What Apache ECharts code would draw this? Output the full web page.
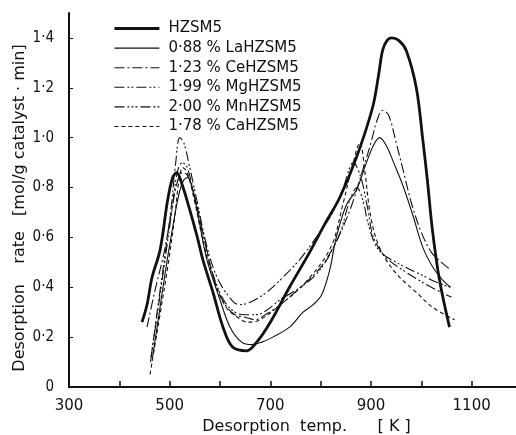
<!DOCTYPE html>
<html>
<head>
<meta charset="utf-8">
<script src="https://cdn.jsdelivr.net/npm/echarts@6/dist/echarts.min.js"></script>
<style>
  html, body { margin: 0; padding: 0; background: #fff; }
  #chart { width: 516px; height: 435px; }
</style>
</head>
<body>
<div id="chart"></div>
<script>
// desorption temp [K], rate pairs
const hzsm5 = [[445,0.26],[455,0.33],[465,0.44],[481,0.55],[496,0.75],[506,0.84],[514,0.86],[525,0.81],[540,0.71],[555,0.60],[566,0.51],[586,0.38],[606,0.24],[625,0.16],[653,0.145],[673,0.18],[700,0.26],[738,0.40],[778,0.54],[810,0.66],[838,0.76],[871,0.92],[903,1.12],[915,1.25],[923,1.35],[932,1.39],[941,1.40],[955,1.39],[970,1.35],[990,1.20],[1003,0.99],[1012,0.83],[1022,0.63],[1036,0.43],[1056,0.24]];
const laHzsm5 = [[466,0.12],[478,0.28],[492,0.47],[506,0.64],[518,0.77],[528,0.83],[536,0.84],[546,0.79],[560,0.65],[574,0.51],[600,0.35],[620,0.24],[643,0.18],[663,0.17],[683,0.18],[705,0.20],[738,0.24],[765,0.30],[785,0.33],[802,0.37],[818,0.47],[831,0.60],[851,0.73],[871,0.79],[891,0.90],[905,0.97],[917,1.00],[930,0.97],[945,0.90],[963,0.81],[983,0.69],[1003,0.56],[1023,0.48],[1042,0.43],[1058,0.40]];
const ceHzsm5 = [[455,0.24],[470,0.38],[490,0.55],[505,0.72],[515,0.82],[525,0.86],[535,0.85],[550,0.76],[570,0.58],[590,0.42],[610,0.33],[630,0.29],[650,0.28],[670,0.27],[690,0.29],[720,0.33],[760,0.40],[800,0.48],[830,0.58],[860,0.72],[885,0.88],[900,0.98],[912,1.07],[923,1.11],[935,1.09],[950,0.98],[965,0.86],[980,0.74],[1000,0.62],[1020,0.54],[1040,0.50],[1058,0.47]];
const mgHzsm5 = [[462,0.10],[475,0.30],[490,0.52],[503,0.72],[512,0.90],[520,1.00],[528,0.98],[540,0.88],[555,0.74],[572,0.58],[592,0.45],[615,0.37],[638,0.33],[660,0.34],[693,0.38],[725,0.44],[758,0.51],[798,0.62],[824,0.70],[845,0.80],[865,0.90],[880,0.84],[893,0.72],[905,0.60],[930,0.52],[970,0.46],[1020,0.40],[1060,0.36]];
const mnHzsm5 = [[463,0.12],[476,0.30],[490,0.50],[504,0.70],[515,0.86],[525,0.90],[535,0.88],[550,0.76],[568,0.60],[588,0.44],[610,0.34],[630,0.30],[648,0.29],[670,0.29],[720,0.35],[790,0.45],[835,0.60],[858,0.75],[872,0.80],[885,0.74],[895,0.65],[915,0.55],[950,0.50],[1000,0.45],[1030,0.42],[1058,0.40]];
const caHzsm5 = [[461,0.05],[470,0.16],[480,0.28],[496,0.48],[510,0.68],[518,0.82],[526,0.88],[535,0.86],[550,0.74],[568,0.57],[590,0.42],[612,0.32],[635,0.28],[655,0.26],[680,0.27],[720,0.33],[770,0.42],[820,0.56],[845,0.74],[862,0.88],[878,0.98],[888,0.86],[898,0.70],[911,0.59],[930,0.51],[957,0.44],[990,0.38],[1022,0.32],[1066,0.27]];

const legendNames = ['HZSM5', '0·88 % LaHZSM5', '1·23 % CeHZSM5', '1·99 % MgHZSM5', '2·00 % MnHZSM5', '1·78 % CaHZSM5'];
const seriesData = [hzsm5, laHzsm5, ceHzsm5, mgHzsm5, mnHzsm5, caHzsm5];

const INK = '#111';
const FONT = 'DejaVu Sans';
const NARROW = '"Liberation Sans Narrow", "DejaVu Sans Condensed", sans-serif';

// line look for each curve, same order as legendNames
const lineLooks = [
  {width: 2.8, type: 'solid'},
  {width: 1.1, type: 'solid'},
  {width: 1.1, type: [10, 3, 2, 3]},
  {width: 1.1, type: [10, 3, 2, 2, 2, 3]},
  {width: 1.1, type: [10, 3, 2, 2, 2, 2, 2, 3]},
  {width: 1.1, type: [4, 3]}
];

function tickLabel(v) {
  if (v === 0) {
    return '0';
  }
  return v.toFixed(1).replace('.', '·');
}

function getOptions() {
  let series = [];
  let legendData = [];
  for (let i = 0; i < seriesData.length; i++) {
    let look = {color: INK, width: lineLooks[i].width, type: lineLooks[i].type};
    series.push({
      name: legendNames[i],
      type: 'line',
      data: seriesData[i],
      smooth: 0.35,
      symbol: 'none',
      lineStyle: look,
      itemStyle: {color: INK},
      z: i === 0 ? 5 : 3
    });
    // legend sample: only the line, no round marker
    legendData.push({
      name: legendNames[i],
      lineStyle: Object.assign({}, look),
      itemStyle: {color: 'rgba(0,0,0,0)', borderWidth: 0, opacity: 0}
    });
  }

  let axisBase = {
    axisLine: {show: true, lineStyle: {color: INK, width: 2}},
    splitLine: {show: false}
  };

  return {
    animation: false,
    backgroundColor: '#fff',
    grid: {left: 69, top: 13, right: -6, bottom: 48, outerBoundsMode: 'none', containLabel: false},
    legend: {
      orient: 'vertical',
      left: 113,
      top: 21,
      padding: 0,
      itemWidth: 45,
      itemHeight: 14,
      itemGap: 4.6,
      data: legendData,
      textStyle: {color: INK, fontFamily: FONT, fontSize: 15, padding: [0, 0, 0, 4]}
    },
    xAxis: [
      Object.assign({}, axisBase, {
        type: 'value', min: 300, max: 1200, interval: 100, position: 'bottom',
        name: 'Desorption  temp.      [ K ]',
        nameLocation: 'middle', nameGap: 30,
        nameTextStyle: {color: INK, fontFamily: FONT, fontSize: 16, padding: [0, 0, 0, 22]},
        axisTick: {show: true, inside: true, length: 6, lineStyle: {color: INK, width: 1.5}},
        axisLabel: {
          color: INK, fontFamily: FONT, fontSize: 15, margin: 12, showMaxLabel: false,
          formatter: function (v) { return v % 200 === 100 ? String(v) : ''; }
        }
      }),
      Object.assign({}, axisBase, {
        type: 'value', min: 300, max: 1200, position: 'top',
        axisTick: {show: false}, axisLabel: {show: false}
      })
    ],
    yAxis: [
      Object.assign({}, axisBase, {
        type: 'value', min: 0, max: 1.5, interval: 0.2, position: 'left',
        name: 'Desorption    rate   [mol/g catalyst · min]',
        nameLocation: 'middle', nameGap: 41, nameRotate: 90, nameMoveOverlap: false,
        nameTextStyle: {color: INK, fontFamily: FONT, fontSize: 16, padding: [0, 16, 0, 0]},
        axisTick: {show: true, inside: true, length: 4, lineStyle: {color: INK, width: 1}},
        axisLabel: {
          color: INK, fontFamily: NARROW, fontSize: 15, margin: 15, showMaxLabel: false,
          formatter: tickLabel
        }
      }),
      Object.assign({}, axisBase, {
        type: 'value', min: 0, max: 1.5, interval: 0.2, position: 'right',
        axisTick: {show: true, inside: true, length: 6, lineStyle: {color: INK, width: 1}},
        axisLabel: {show: false}
      })
    ],
    series: series
  };
}

let chart = echarts.init(document.getElementById('chart'));
chart.setOption(getOptions());
</script>
</body>
</html>
